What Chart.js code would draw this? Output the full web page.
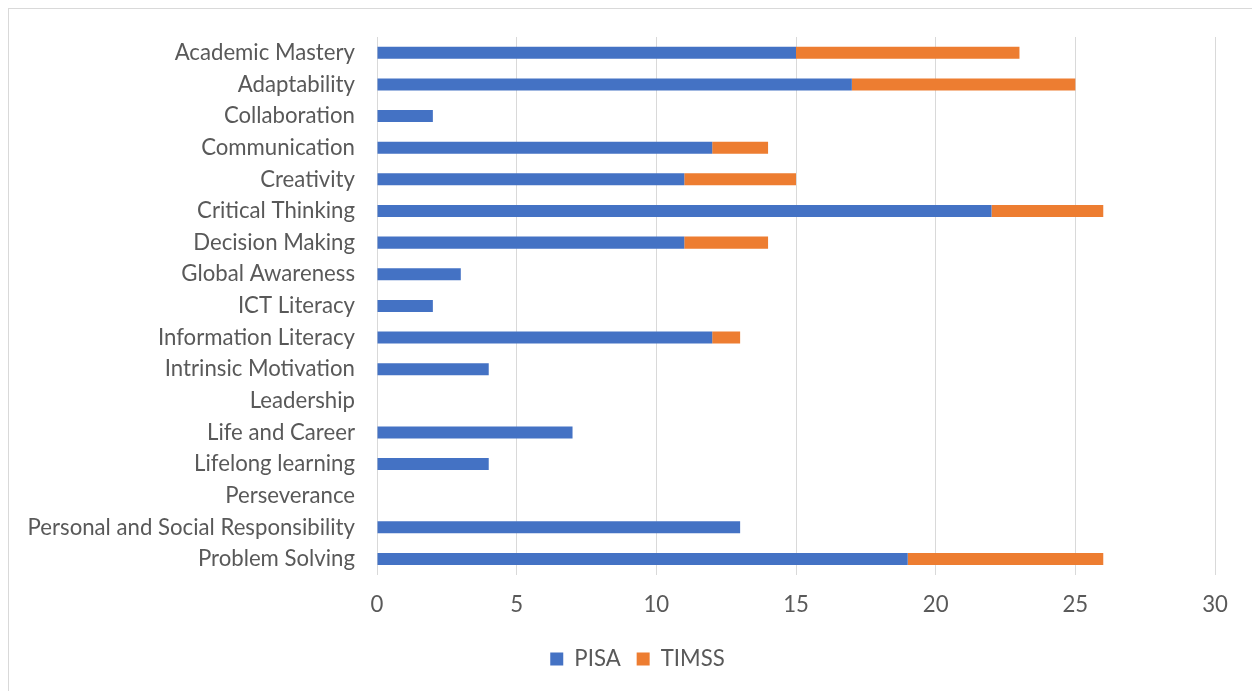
<!DOCTYPE html>
<html>
<head>
<meta charset="utf-8">
<script src="https://cdn.jsdelivr.net/npm/chart.js@4"></script>
<style>
  html, body { margin: 0; padding: 0; background: #fff; overflow: hidden; }
  #cadre { position: absolute; left: 8px; top: 8px; width: 1300px; height: 760px; border: 1px solid #d9d9d9; box-sizing: border-box; }
  #zone { position: absolute; left: 0; top: 0; width: 1252px; height: 691px; }
</style>
</head>
<body>
<div id="cadre"></div>
<div id="zone"><canvas id="competencesChart"></canvas></div>
<script>
// --- données ---
const categories = [
    'Academic Mastery', 'Adaptability', 'Collaboration', 'Communication', 'Creativity',
    'Critical Thinking', 'Decision Making', 'Global Awareness', 'ICT Literacy',
    'Information Literacy', 'Intrinsic Motivation', 'Leadership', 'Life and Career',
    'Lifelong learning', 'Perseverance', 'Personal and Social Responsibility', 'Problem Solving'
];
const valeursPISA  = [15, 17, 2, 12, 11, 22, 11, 3, 2, 12, 4, 0, 7, 4, 0, 13, 19];
const valeursTIMSS = [8, 8, 0, 2, 4, 4, 3, 0, 0, 1, 0, 0, 0, 0, 0, 0, 7];
const ticksX = [0, 5, 10, 15, 20, 25, 30];

// --- décale la légende vers la droite (centrée sur la page, pas sur la zone du graphique) ---
const decalageLegende = {
    id: 'decalageLegende',
    afterLayout(chart) {
        if (chart.legend) {
            chart.legend.left += 30;
            chart.legend.right += 30;
        }
    }
};

document.addEventListener('DOMContentLoaded', () => {
    const couleurTexte = '#595959';
    const police = { family: 'Lato', size: 22.2 };

    const ctx = document.getElementById('competencesChart').getContext('2d');
    new Chart(ctx, {
        type: 'bar',
        data: {
            labels: categories,
            datasets: [
                { label: 'PISA', data: valeursPISA, backgroundColor: '#4472c4', barPercentage: 0.38, categoryPercentage: 1 },
                { label: 'TIMSS', data: valeursTIMSS, backgroundColor: '#ed7d31', barPercentage: 0.38, categoryPercentage: 1 }
            ]
        },
        options: {
            indexAxis: 'y',
            responsive: true,
            maintainAspectRatio: false,
            animation: false,
            layout: { padding: { top: 37, right: 37, left: 0, bottom: 11 } },
            scales: {
                x: {
                    stacked: true,
                    min: 0,
                    max: 30,
                    afterBuildTicks: (axe) => { axe.ticks = ticksX.map(v => ({ value: v })); },
                    ticks: { color: couleurTexte, font: police, padding: 17 },
                    grid: { color: '#d9d9d9', drawTicks: false },
                    border: { display: false },
                    afterFit: (axe) => { axe.height = 57; }
                },
                y: {
                    stacked: true,
                    ticks: { color: couleurTexte, font: police, padding: 22, autoSkip: false },
                    grid: { display: false, drawTicks: false },
                    border: { display: false },
                    afterFit: (axe) => { axe.width = 377; }
                }
            },
            plugins: {
                legend: {
                    position: 'bottom',
                    labels: { color: couleurTexte, font: police, boxWidth: 13, boxHeight: 13, padding: 16 }
                },
                tooltip: { enabled: false }
            }
        },
        plugins: [decalageLegende]
    });
});
</script>
</body>
</html>
